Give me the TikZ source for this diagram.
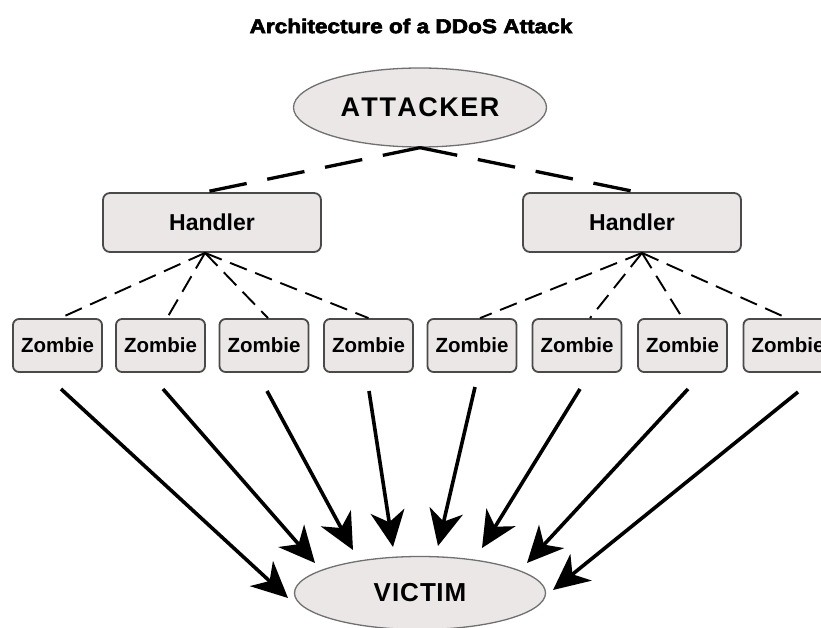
\documentclass[tikz,border=0pt]{standalone}
\usepackage{fontspec}
\setmainfont{Liberation Sans}
\newfontfamily\titlefont[FakeBold=3]{Liberation Sans Bold}
\usetikzlibrary{shapes.geometric,arrows.meta}
\definecolor{nodefill}{HTML}{EBE7E7}
\definecolor{ellline}{HTML}{707070}
\definecolor{boxline}{HTML}{4A4A4A}
\tikzset{
  ellnode/.style={ellipse, draw=ellline, line width=1.3pt, fill=nodefill, inner sep=0pt},
  handlerbox/.style={rectangle, rounded corners=7pt, draw=boxline, line width=1.8pt, fill=nodefill,
    minimum width=218pt, minimum height=59pt, inner sep=0pt, font=\bfseries\fontsize{23}{26}\selectfont},
  zombiebox/.style={rectangle, rounded corners=6pt, draw=boxline, line width=1.8pt, fill=nodefill,
    minimum width=89pt, minimum height=53pt, inner sep=0pt, font=\bfseries\fontsize{20.5}{24}\selectfont},
  topdash/.style={line width=3.3pt, dash pattern=on 38pt off 21pt},
  lowdash/.style={line width=1.9pt, dash pattern=on 18pt off 9pt},
  attack/.style={line width=3.6pt, -{Stealth[length=36pt, width=34pt, inset=11pt]}},
}
\begin{document}
\begin{tikzpicture}[x=1pt,y=-1pt]
\useasboundingbox (0,0) rectangle (821,628);
\clip (0,0) rectangle (821,628);
% title
\node (title) at (411,26) {\titlefont\fontsize{20}{22}\selectfont\scalebox{1.13}[1]{Architecture of a DDoS Attack}};
% attacker and victim
\node[ellnode, minimum width=253pt, minimum height=79pt] (att) at (420,107.5)
  {\bfseries\fontsize{27}{30}\selectfont A\kern1.5pt T\kern1.5pt T\kern1.5pt A\kern1.5pt C\kern1.5pt K\kern1.5pt E\kern1.5pt R};
\node[ellnode, minimum width=251pt, minimum height=73pt] (vic) at (420,593)
  {\bfseries\fontsize{26}{30}\selectfont V\kern1pt I\kern1pt C\kern1pt T\kern0.5pt I\kern1pt M};
% handlers
\node[handlerbox] (h1) at (212,222.5) {Handler};
\node[handlerbox] (h2) at (632,222.5) {Handler};
% zombies
\foreach \i/\x in {1/57.5, 2/160.5, 3/264, 4/368.5, 5/472, 6/577, 7/682.5, 8/788} {
  \node[zombiebox] (z\i) at (\x,345.5) {Zombie};
}
% attacker to handlers
\draw[topdash] (att.south) -- ([xshift=-7pt]h1.north);
\draw[topdash] (att.south) -- ([xshift=5pt]h2.north);
% handlers to zombies
\draw[lowdash] ([xshift=-7pt]h1.south) -- ([xshift=2.5pt]z1.north);
\draw[lowdash] ([xshift=-7pt]h1.south) -- ([xshift=6.5pt]z2.north);
\draw[lowdash] ([xshift=-7pt]h1.south) -- ([xshift=4pt]z3.north);
\draw[lowdash] ([xshift=-7pt]h1.south) -- (z4.north);
\draw[lowdash] ([xshift=10pt]h2.south) -- ([xshift=8pt]z5.north);
\draw[lowdash] ([xshift=10pt]h2.south) -- ([xshift=13pt]z6.north);
\draw[lowdash] ([xshift=10pt]h2.south) -- (z7.north);
\draw[lowdash] ([xshift=10pt]h2.south) -- ([xshift=-1pt]z8.north);
% attack arrows
\coordinate (s1) at (61,389);   \coordinate (t1) at (288,598);
\coordinate (s2) at (163,389);  \coordinate (t2) at (315,563);
\coordinate (s3) at (267,391);  \coordinate (t3) at (353,550);
\coordinate (s4) at (369,391);  \coordinate (t4) at (393,547);
\coordinate (s5) at (475,387);  \coordinate (t5) at (438,546);
\coordinate (s6) at (580,389);  \coordinate (t6) at (482,548);
\coordinate (s7) at (688,389);  \coordinate (t7) at (527,563);
\coordinate (s8) at (798,392);  \coordinate (t8) at (553,590);
\foreach \i in {1,...,8} {
  \draw[attack] (s\i) -- (t\i);
}
\end{tikzpicture}
\end{document}
